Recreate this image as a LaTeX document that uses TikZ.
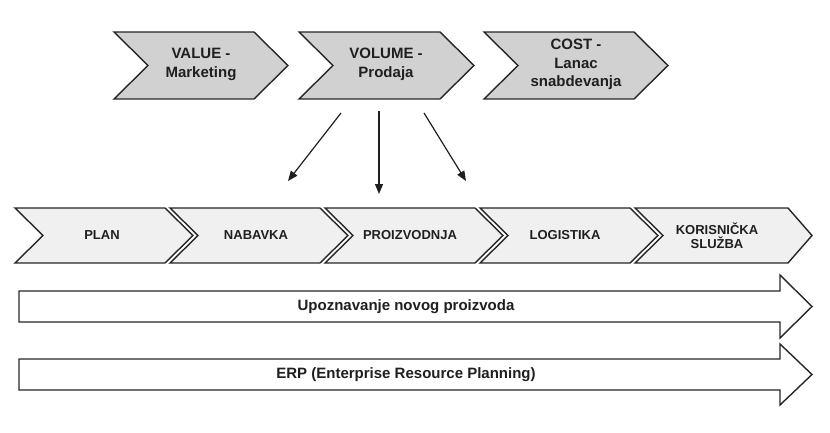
\documentclass[tikz,border=0pt]{standalone}
\usepackage{fontspec}
\setmainfont{Liberation Sans}
\usepackage{tikz}
\usetikzlibrary{arrows.meta}

\begin{document}
\begin{tikzpicture}[
      x=1pt, y=-1pt,
      c1/.style = {draw=black!85, line width=1.4pt, line join=miter, fill=black!18},
      c2/.style = {draw=black!85, line width=1.4pt, line join=miter, fill=black!6},
      bd/.style = {draw=black!85, line width=1.4pt, line join=miter, fill=white},
      tl/.style = {font=\bfseries\fontsize{15}{18.5}\selectfont, align=center, inner sep=0pt, text=black!88},
      ml/.style = {font=\bfseries\fontsize{13}{14.5}\selectfont, align=center, inner sep=0pt, text=black!88},
      bl/.style = {font=\bfseries\fontsize{15}{18}\selectfont, inner sep=0pt, text=black!88},
      ar/.style = {line width=1.2pt, draw=black!88, -{Triangle[length=10pt, width=8pt]}},
    ]
    \useasboundingbox (0,0) rectangle (830,433);

    % top row
    \draw[c1] (114,32) -- (254,32) -- (288,65.5) -- (254,99) -- (114,99) -- (148,65.5) -- cycle;
    \draw[c1] (299,32) -- (440,32) -- (474,65.5) -- (440,99) -- (299,99) -- (333,65.5) -- cycle;
    \draw[c1] (484,32) -- (634,32) -- (668,65.5) -- (634,99) -- (484,99) -- (518,65.5) -- cycle;
    \node[tl] (val) at (201,64.5) {VALUE -\\Marketing};
    \node[tl] (vol) at (386,64.5) {VOLUME -\\Prodaja};
    \node[tl] (cst) at (576,64.5) {COST -\\Lanac\\snabdevanja};

    % arrows
    \coordinate (s1) at (341,113);
    \coordinate (s2) at (379,111);
    \coordinate (s3) at (424,113);
    \coordinate (e1) at (288,181);
    \coordinate (e2) at (379,194);
    \coordinate (e3) at (466,181);
    \draw[ar] (s1) -- (e1);
    \draw[ar] (s2) -- (e2);
    \draw[ar] (s3) -- (e3);

    % middle row
    \draw[c2] (15,208) -- (165,208) -- (193,235.5) -- (165,263) -- (15,263) -- (43,235.5) -- cycle;
    \draw[c2] (170,208) -- (320,208) -- (348,235.5) -- (320,263) -- (170,263) -- (198,235.5) -- cycle;
    \draw[c2] (325,208) -- (475,208) -- (503,235.5) -- (475,263) -- (325,263) -- (353,235.5) -- cycle;
    \draw[c2] (480,208) -- (630,208) -- (658,235.5) -- (630,263) -- (480,263) -- (508,235.5) -- cycle;
    \draw[c2] (635,208) -- (788,208) -- (812,235.5) -- (788,263) -- (635,263) -- (663,235.5) -- cycle;
    \node[ml] (pl) at (102,235.5) {PLAN};
    \node[ml] (nb) at (256,235.5) {NABAVKA};
    \node[ml] (pr) at (410,235.5) {PROIZVODNJA};
    \node[ml] (lg) at (565,235.5) {LOGISTIKA};
    \node[ml] (ks) at (717,235.5) {KORISNIČKA\\SLUŽBA};

    % bottom bands
    \draw[bd] (19,291) -- (780,291) -- (780,275) -- (812,306.5) -- (780,338) -- (780,322) -- (19,322) -- cycle;
    \draw[bd] (19,359) -- (780,359) -- (780,344) -- (812,374.5) -- (780,405) -- (780,390) -- (19,390) -- cycle;
    \node[bl] (np) at (406,306.5) {Upoznavanje novog proizvoda};
    \node[bl] (erp) at (406,374.5) {ERP (Enterprise Resource Planning)};
  \end{tikzpicture}
\end{document}
